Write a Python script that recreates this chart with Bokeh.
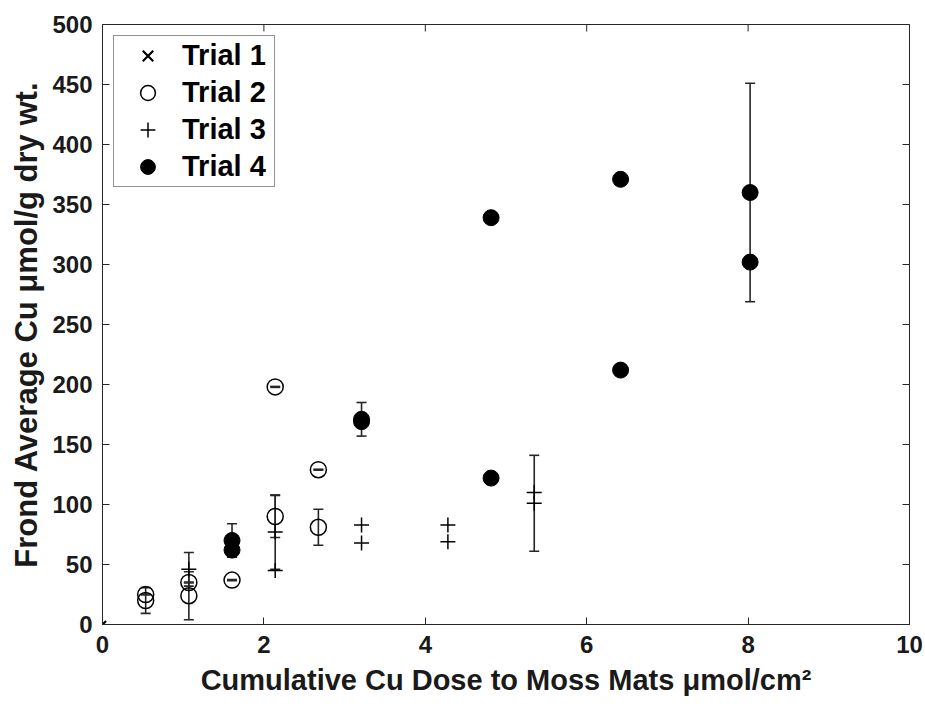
import math
from bokeh.plotting import figure
from bokeh.models import (ColumnDataSource, Whisker, TeeHead, Range1d, FixedTicker,
                          Legend, LegendItem)
from bokeh.embed import file_html
from bokeh.resources import INLINE

# ---------------- data ----------------
x_ticks = [0, 2, 4, 6, 8, 10]
y_ticks = [0, 50, 100, 150, 200, 250, 300, 350, 400, 450, 500]

trial1_dose = [0.0]
trial1_cu = [0.0]

trial2_dose = [0.535, 0.535, 1.07, 1.07, 1.605, 2.14, 2.14, 2.675, 2.675]
trial2_cu = [25, 20, 35, 24, 37, 198, 90, 129, 81]
trial2_err = [0.4, 10.7, 0.4, 20, 0.4, 0.4, 17.5, 0.4, 15]

trial3_dose = [1.07, 2.14, 2.14, 3.21, 3.21, 4.28, 4.28, 5.35, 5.35]
trial3_cu = [46, 77, 45, 83, 68, 83, 69, 110, 101]
trial3_err = [14, 31, 0, 0, 0, 0, 0, 0, 40]

trial4_dose = [1.605, 1.605, 3.21, 3.21, 4.815, 4.815, 6.42, 6.42, 8.025, 8.025]
trial4_cu = [70, 62, 171, 169, 339, 122, 371, 212, 360, 302]
trial4_err = [14, 0, 14, 0, 0, 0, 0, 0, 91, 0]

x_title = "Cumulative Cu Dose to Moss Mats \u03bcmol/cm\u00b2"
y_title = "Frond Average Cu \u03bcmol/g dry wt."
legend_labels = ["Trial 1", "Trial 2", "Trial 3", "Trial 4"]

# ---------------- styling ----------------
INK = "#262626"
FONT = "Liberation Sans"

x_range = Range1d(0, 10)
y_range = Range1d(0, 500)

p = figure(width=925, height=706, output_backend="svg", toolbar_location=None,
           x_range=x_range, y_range=y_range,
           min_border_left=102, min_border_right=16, min_border_top=24,
           min_border_bottom=82, background_fill_color="white",
           border_fill_color="white")
p.grid.visible = False
p.outline_line_color = INK
p.outline_line_width = 1

for ax in p.xaxis:
    ax.ticker = FixedTicker(ticks=x_ticks)
for ax in p.yaxis:
    ax.ticker = FixedTicker(ticks=y_ticks)

for ax in list(p.xaxis) + list(p.yaxis):
    ax.axis_line_color = INK
    ax.major_tick_line_color = INK
    ax.major_tick_in = 7
    ax.major_tick_out = 0
    ax.minor_tick_line_color = None
    ax.major_label_text_font = FONT
    ax.major_label_text_font_style = "bold"
    ax.major_label_text_color = "#1a1a1a"
    ax.major_label_text_font_size = "24px"
    ax.axis_label_text_font = FONT
    ax.axis_label_text_font_style = "bold"
    ax.axis_label_text_color = "#1a1a1a"

p.xaxis.axis_label = x_title
p.yaxis.axis_label = y_title
p.xaxis.axis_label_text_font_size = "29px"
p.yaxis.axis_label_text_font_size = "31px"
p.xaxis.major_label_standoff = 11
p.xaxis.axis_label_standoff = 8
p.yaxis.major_label_standoff = 10
p.yaxis.axis_label_standoff = 5

# inward box ticks on the top and right edges (half of each dash is clipped
# by the frame, leaving a 7 px tick inside)
p.scatter(x_ticks, [y_range.end] * len(x_ticks), marker="dash", size=14,
          angle=math.pi / 2, line_color=INK, line_width=1)
p.scatter([x_range.end] * len(y_ticks), y_ticks, marker="dash", size=14,
          line_color=INK, line_width=1)


def add_errorbars(dose, cu, err):
    xs, up, lo = [], [], []
    for d, c, e in zip(dose, cu, err):
        if e > 0:
            xs.append(d)
            up.append(c + e)
            lo.append(c - e)
    src = ColumnDataSource(dict(x=xs, upper=up, lower=lo))
    w = Whisker(source=src, base="x", upper="upper", lower="lower",
                dimension="height", line_color=INK, line_width=1.6,
                upper_head=TeeHead(size=10, line_color=INK, line_width=1.6),
                lower_head=TeeHead(size=10, line_color=INK, line_width=1.6))
    p.add_layout(w)


add_errorbars(trial2_dose, trial2_cu, trial2_err)
add_errorbars(trial3_dose, trial3_cu, trial3_err)
add_errorbars(trial4_dose, trial4_cu, trial4_err)

r1 = p.scatter(trial1_dose, trial1_cu, marker="x", size=10, line_color="black",
               line_width=2.2)
r2 = p.scatter(trial2_dose, trial2_cu, marker="circle", size=16, fill_color=None,
               line_color="black", line_width=1.5)
r3 = p.scatter(trial3_dose, trial3_cu, marker="cross", size=15,
               line_color="black", line_width=1.5)
r4 = p.scatter(trial4_dose, trial4_cu, marker="circle", size=16,
               fill_color="black", line_color="black")

legend = Legend(
    items=[LegendItem(label=lab, renderers=[r]) for lab, r in
           zip(legend_labels, [r1, r2, r3, r4])],
    location="top_left", margin=11, padding=(4, 8, 1, 1), spacing=0,
    glyph_width=59, glyph_height=37, label_standoff=5,
    label_height=20, label_text_font=FONT, label_text_font_style="bold",
    label_text_font_size="29px", label_text_color="black",
    border_line_color=INK, border_line_width=1.2,
    background_fill_color="white", background_fill_alpha=1.0)
p.add_layout(legend)

open("out.html", "w").write(file_html(p, INLINE))
